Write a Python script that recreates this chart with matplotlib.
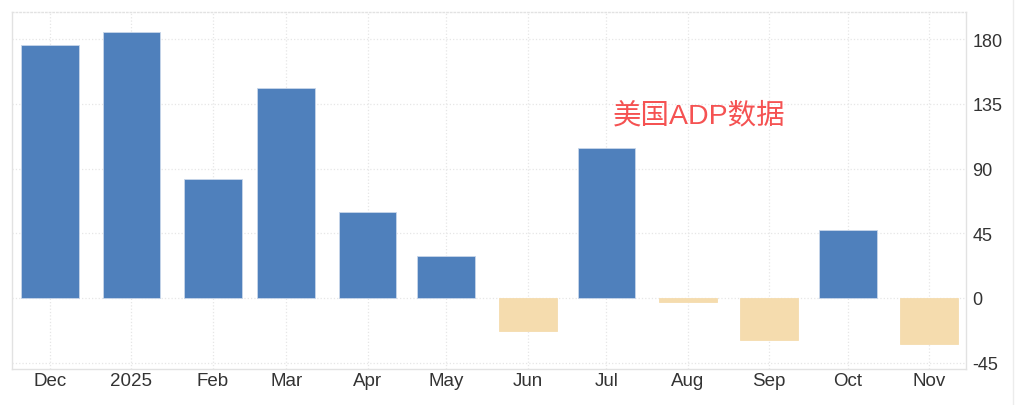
# Datos ADP (miles de empleos), dic 2024 - nov 2025
import matplotlib
matplotlib.use("Agg")
import matplotlib.pyplot as plt
import matplotlib.lines as mlines
from datetime import datetime, timedelta

meses = [datetime(2024, 12, 1)] + [datetime(2025, m, 1) for m in range(1, 12)]
etiquetas = ["Dec", "2025", "Feb", "Mar", "Apr", "May", "Jun", "Jul", "Aug", "Sep", "Oct", "Nov"]
valores = [176, 185, 83, 146, 60, 29, -23, 104, -3, -29, 47, -32]
yticks = [-45, 0, 45, 90, 135, 180]

azul = "#4f80bc"
arena = "#f5dcae"
colores = [azul if v >= 0 else arena for v in valores]
bordes = ["#c8d6ea" if v >= 0 else arena for v in valores]

fig = plt.figure(figsize=(10.24, 4.06), dpi=100)
ax = fig.add_axes([12 / 1024, 36 / 406, 954 / 1024, 357 / 406])

ax.bar(meses, valores, width=22, color=colores, edgecolor=bordes, linewidth=0.6, zorder=3)

ax.set_xlim(meses[0] - timedelta(days=14.5), meses[-1] + timedelta(days=14))
ax.set_ylim(-49.5, 199)

ax.set_xticks(meses)
ax.set_xticklabels(etiquetas, fontsize=13.5, color="#333333", family="Liberation Sans")
ax.yaxis.tick_right()
ax.set_yticks(yticks)
ax.set_yticklabels([str(v) for v in yticks], fontsize=13, color="#333333", family="Liberation Sans")
ax.tick_params(axis="both", length=0)
ax.tick_params(axis="x", pad=2)
ax.tick_params(axis="y", pad=4.5)

ax.grid(True, linestyle=":", color="#e6e6e6", linewidth=0.9, zorder=0)
for lado in ["left", "right", "bottom", "top"]:
    ax.spines[lado].set_color("#e2e2e2")
    ax.spines[lado].set_linewidth(1)
ax.spines["top"].set_linestyle(":")

ax.text(0.630, 0.711, "美国ADP数据", transform=ax.transAxes, fontsize=20.5,
        color="#f55252", family=["Liberation Sans", "Noto Sans CJK SC"], va="center", ha="left")

# borde derecho de la captura
fig.add_artist(mlines.Line2D([1013 / 1024, 1013 / 1024], [0, 1], color="#ececec", linewidth=1))

fig.savefig("out.png", dpi=100)
